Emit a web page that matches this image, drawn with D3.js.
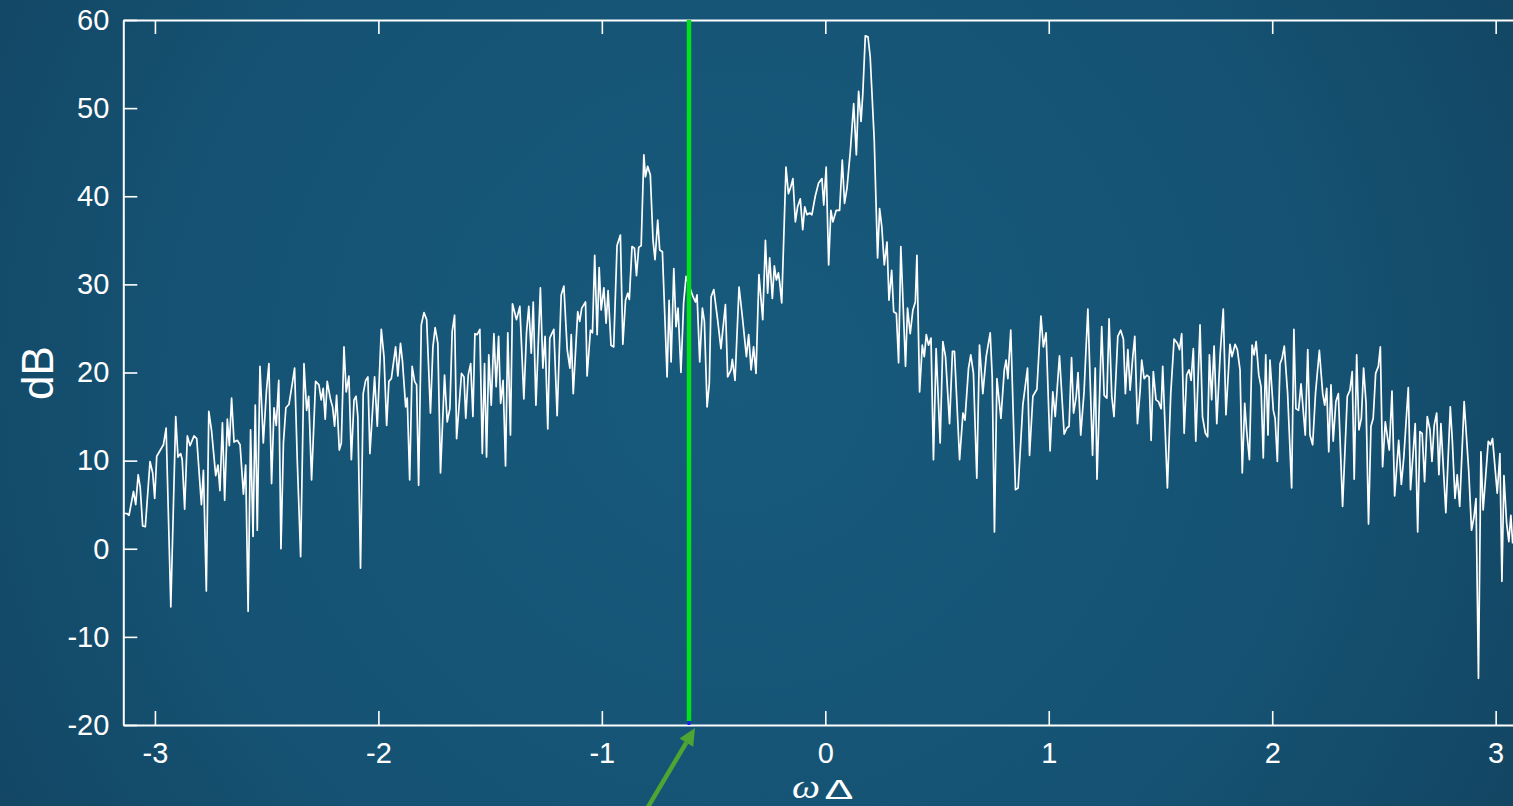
<!DOCTYPE html>
<html>
<head>
<meta charset="utf-8">
<script src="https://cdn.jsdelivr.net/npm/d3@7"></script>
<style>
  html, body { margin: 0; padding: 0; overflow: hidden; background: #134866; }
  svg { display: block; }
</style>
</head>
<body>
<svg id="chart" width="1513" height="806"></svg>
<script>
// Spectrum samples: normalized frequency (rad/sample) and power in dB
const omega = [
  -3.138,-3.126,-3.116,-3.096,-3.086,-3.075,-3.066,-3.055,-3.043,-3.022,-3.010,-3.001,-2.992,-2.962,-2.950,-2.929,
  -2.907,-2.897,-2.885,-2.878,-2.867,-2.855,-2.843,-2.825,-2.813,-2.792,-2.783,-2.770,-2.759,-2.747,-2.728,-2.718,
  -2.709,-2.698,-2.688,-2.676,-2.667,-2.657,-2.646,-2.631,-2.619,-2.604,-2.594,-2.583,-2.572,-2.561,-2.551,-2.542,
  -2.530,-2.515,-2.501,-2.490,-2.478,-2.467,-2.457,-2.446,-2.436,-2.425,-2.414,-2.400,-2.385,-2.375,-2.363,
  -2.348,-2.333,-2.321,-2.312,-2.299,-2.281,-2.266,-2.256,-2.247,-2.238,-2.229,-2.214,-2.205,-2.196,-2.187,-2.175,
  -2.166,-2.154,-2.144,-2.132,-2.121,-2.109,-2.100,-2.092,-2.080,-2.068,-2.057,-2.047,-2.038,-2.017,-2.005,-1.987,
  -1.975,-1.963,-1.953,-1.942,-1.923,-1.913,-1.901,-1.892,-1.878,-1.871,-1.860,-1.849,-1.838,-1.829,-1.820,-1.808,
  -1.796,-1.784,-1.767,-1.756,-1.746,-1.734,-1.722,-1.704,-1.692,-1.680,-1.670,-1.659,-1.650,-1.628,-1.617,-1.609,
  -1.598,-1.587,-1.577,-1.568,-1.558,-1.546,
  -1.535,-1.525,-1.516,-1.506,-1.495,-1.483,-1.473,-1.462,-1.453,-1.442,-1.431,-1.421,-1.409,-1.400,-1.382,-1.367,
  -1.349,-1.337,-1.327,-1.316,-1.307,-1.295,-1.275,-1.264,-1.254,-1.242,-1.233,-1.215,-1.200,-1.182,-1.170,-1.155,
  -1.143,-1.137,-1.128,-1.108,-1.099,-1.090,-1.073,-1.066,-1.051,-1.042,-1.032,-1.021,-1.012,-1.003,-0.991,-0.981,
  -0.972,-0.959,-0.947,-0.932,-0.917,-0.906,-0.894,-0.884,-0.877,-0.865,-0.854,-0.845,-0.835,-0.824,-0.812,
  -0.805,-0.795,-0.783,-0.771,-0.762,-0.750,-0.741,-0.729,-0.708,-0.699,-0.690,-0.678,-0.668,-0.659,-0.646,-0.634,
  -0.623,-0.592,-0.581,-0.574,-0.562,-0.550,-0.541,-0.529,-0.519,-0.511,-0.499,-0.482,-0.467,-0.447,-0.437,-0.422,
  -0.416,-0.404,-0.386,-0.371,-0.353,-0.343,-0.332,-0.321,-0.310,-0.297,-0.280,-0.268,-0.258,-0.249,-0.237,-0.228,
  -0.219,-0.210,-0.204,-0.195,-0.176,-0.165,-0.154,-0.145,-0.134,-0.124,-0.112,-0.101,-0.092,-0.082,-0.070,-0.060,
  -0.045,-0.030,
  -0.015,-0.007,0.004,0.015,0.025,0.034,0.049,0.064,0.076,0.086,0.097,0.112,0.127,0.139,0.149,0.160,
  0.168,0.179,0.191,0.201,0.219,0.234,0.243,0.253,0.264,0.276,0.285,0.297,0.306,0.318,0.328,0.338,
  0.359,0.368,0.380,0.392,0.403,0.410,0.422,0.434,0.443,0.452,0.462,0.473,0.484,0.496,0.514,0.526,
  0.538,0.556,0.569,0.578,0.601,0.616,0.625,0.641,0.651,0.663,0.678,0.690,
  0.705,0.720,0.738,0.747,0.757,0.768,0.786,0.801,0.809,0.817,0.830,0.851,0.863,0.884,0.905,0.914,
  0.929,0.947,0.965,0.976,0.988,1.006,1.018,1.029,1.048,1.069,1.081,1.091,1.102,1.111,1.123,1.131,
  1.143,1.158,1.175,1.196,1.208,1.216,1.237,1.248,1.260,1.270,1.282,1.292,1.309,1.322,1.334,1.343,
  1.354,1.364,1.376,1.385,1.397,
  1.409,1.416,1.427,1.439,1.449,1.458,1.468,1.480,1.491,1.503,1.510,1.531,1.546,1.561,1.576,1.585,
  1.595,1.606,1.617,1.628,1.637,1.647,1.658,1.677,1.688,1.701,1.711,1.719,1.729,1.740,1.752,1.767,
  1.781,1.793,1.811,1.820,1.834,1.844,1.856,1.866,1.877,1.886,1.898,1.910,1.919,1.928,1.940,1.950,
  1.960,1.971,1.981,1.990,2.005,2.013,2.023,2.035,2.044,2.054,2.069,2.087,2.097,2.106,2.118,2.129,
  2.148,2.159,2.169,2.181,2.194,2.211,
  2.226,2.235,2.244,2.253,2.263,2.273,2.285,2.296,2.315,2.336,2.348,2.358,2.367,2.378,2.388,2.399,
  2.409,2.420,2.431,2.442,2.452,2.463,2.475,2.484,2.494,2.506,2.524,2.536,2.548,2.566,2.578,2.589,
  2.609,2.619,2.640,2.651,2.661,2.671,2.682,2.694,2.706,2.715,2.725,2.736,2.746,2.755,2.777,2.797,
  2.806,2.818,2.828,2.839,2.859,2.880,2.892,2.903,2.912,2.923,2.934,2.944,2.967,2.977,2.986,3.007,
  3.019,3.028,3.037,3.049,3.059,3.068,3.076
];

const powerDb = [
  4.0,4.0,3.8,6.5,5.0,8.4,7.0,2.6,2.5,9.9,8.6,5.7,10.5,11.8,13.7,-6.6,
  15.0,10.4,10.8,10.1,4.5,12.8,11.7,12.8,12.5,5.0,8.9,-4.8,15.6,13.5,8.3,9.5,
  6.6,14.3,5.5,14.7,11.7,17.1,12.1,12.3,11.8,6.2,9.5,-7.1,13.5,1.4,16.3,2.1,
  20.7,12.0,17.9,21.0,7.4,16.0,14.0,19.1,0.0,12.0,16.0,16.4,18.8,20.5,10.0,
  -0.9,21.0,15.7,17.3,7.8,19.0,18.6,16.9,18.2,14.7,19.0,16.9,16.1,13.9,17.4,11.2,
  12.0,22.9,17.8,19.6,10.1,16.9,17.3,15.0,-2.2,17.6,19.1,19.5,10.8,19.5,13.9,24.9,
  21.8,14.0,19.0,19.3,22.9,19.6,23.3,21.2,16.1,17.1,7.8,20.7,19.0,18.6,7.2,25.4,
  26.8,26.0,15.4,22.9,25.1,23.3,8.6,19.7,14.4,15.9,24.6,26.5,12.5,19.9,19.5,14.8,
  19.7,21.0,15.0,24.4,24.3,24.9,
  10.8,21.0,10.4,22.0,16.3,24.4,18.4,24.1,16.5,19.1,9.4,24.5,12.9,27.8,26.0,27.5,
  17.0,24.6,27.5,22.2,28.0,16.3,29.6,20.5,24.1,13.6,23.9,24.9,15.1,28.8,29.8,22.6,
  20.5,24.3,17.6,26.9,25.8,27.3,28.0,19.6,24.8,24.5,33.3,24.3,31.9,27.1,29.6,25.6,
  29.3,23.1,22.9,34.4,35.6,23.2,28.2,29.0,28.3,34.3,34.1,31.0,34.2,34.4,44.7,
  42.2,43.4,42.4,35.0,32.8,37.3,33.9,33.7,19.5,28.2,21.2,31.8,25.2,27.3,20.0,27.9,
  30.9,28.6,28.0,28.8,21.2,27.3,25.8,16.1,18.8,28.6,29.4,26.0,22.7,27.7,19.5,20.3,
  21.5,19.1,29.7,26.3,21.8,24.3,20.3,22.9,19.9,31.1,26.0,35.0,29.0,33.0,28.4,32.1,
  30.5,31.3,30.2,27.9,43.3,40.3,41.1,42.0,37.1,38.8,39.7,36.2,38.8,37.9,38.1,37.9,
  40.0,41.5,
  42.0,39.0,43.3,32.2,38.4,37.1,38.4,38.4,44.1,39.2,40.9,45.1,50.5,44.7,51.9,48.5,
  51.7,58.2,58.1,55.8,46.4,33.0,38.6,36.5,32.2,34.8,28.2,31.6,26.9,26.7,21.1,34.3,
  20.7,27.3,24.4,27.1,28.0,33.3,17.8,23.1,21.8,24.3,23.1,23.9,10.1,22.7,12.0,23.5,
  21.8,14.2,22.4,22.4,10.1,15.4,14.6,20.5,22.0,19.9,8.0,23.1,
  17.6,21.8,24.5,19.5,1.9,19.3,14.8,20.3,21.4,19.3,24.8,6.7,6.9,16.3,20.5,10.6,
  17.3,18.1,26.4,22.9,24.5,11.1,17.8,15.0,21.9,13.0,13.7,13.9,21.7,15.4,17.3,20.0,
  12.9,17.8,27.2,10.6,20.5,7.9,25.2,17.4,17.1,26.1,17.3,15.0,24.1,24.8,23.8,17.6,
  22.6,18.0,21.8,24.1,14.2,
  18.0,21.4,19.3,19.7,19.5,12.3,20.1,16.9,16.7,15.9,20.7,6.9,17.6,23.8,23.3,22.6,
  24.4,13.1,19.7,20.3,19.1,22.7,12.2,25.4,15.0,13.1,12.7,22.0,16.9,23.0,14.2,22.0,
  27.2,15.2,23.2,21.8,23.2,22.6,20.3,8.6,16.5,13.3,10.1,23.1,22.0,23.5,19.7,18.4,
  10.3,22.0,12.9,21.4,15.7,14.8,9.9,21.0,21.6,23.0,17.6,6.9,24.9,15.9,15.7,18.7,
  12.9,22.6,12.9,11.8,17.7,22.5,
  17.6,16.3,18.2,11.0,18.6,12.2,16.7,17.6,4.8,17.3,18.0,20.1,7.9,22.0,13.5,14.8,
  20.5,16.5,2.8,13.9,14.8,19.9,20.7,22.9,9.3,14.4,11.2,17.9,6.0,12.3,7.3,10.4,
  18.3,6.7,14.2,1.9,13.3,13.1,7.6,15.0,13.5,9.9,14.0,15.4,8.4,14.2,4.1,16.1,
  12.3,5.7,8.4,4.8,16.7,8.6,2.1,3.6,5.7,-14.7,11.0,4.4,12.2,11.8,12.5,6.3,
  10.8,-3.7,8.3,2.9,0.8,3.8,0.6
];

// Axis ticks and the marked frequency
const xTicks = [-3, -2, -1, 0, 1, 2, 3];
const yTicks = [-20, -10, 0, 10, 20, 30, 40, 50, 60];
const xDomain = [-Math.PI, Math.PI];
const yDomain = [-20, 60];
const markedOmega = [-0.61];

const svg = d3.select("#chart");
const W = 1513, H = 806;

// Background with soft radial shading
const defs = svg.append("defs");
const grad = defs.append("radialGradient")
  .attr("id", "bg").attr("gradientUnits", "userSpaceOnUse")
  .attr("cx", 740).attr("cy", 380).attr("r", 950);
grad.append("stop").attr("offset", 0).attr("stop-color", "#175a7c");
grad.append("stop").attr("offset", 0.6).attr("stop-color", "#155273");
grad.append("stop").attr("offset", 1).attr("stop-color", "#12435f");
svg.append("rect").attr("width", W).attr("height", H).attr("fill", "url(#bg)");

const plotLeft = 123.3, plotRight = 1527.3, plotTop = 20, plotBottom = 725;
const x = d3.scaleLinear().domain(xDomain).range([plotLeft, plotRight]);
const y = d3.scaleLinear().domain(yDomain).range([plotBottom, plotTop]);

defs.append("clipPath").attr("id", "plotClip")
  .append("rect").attr("x", plotLeft).attr("y", plotTop)
  .attr("width", plotRight - plotLeft).attr("height", plotBottom - plotTop);

const font = "'Liberation Sans', Arial, Helvetica, sans-serif";

// Spectrum trace
const series = omega.map((w, i) => [w, powerDb[i]]);
svg.append("path")
  .datum(series)
  .attr("clip-path", "url(#plotClip)")
  .attr("fill", "none")
  .attr("stroke", "#ffffff")
  .attr("stroke-width", 1.7)
  .attr("stroke-linejoin", "round")
  .attr("d", d3.line().x(d => x(d[0])).y(d => y(d[1])));

// Axes (ticks point inward, box on top)
function styleAxis(g) {
  g.selectAll(".domain").attr("stroke", "#ffffff").attr("stroke-width", 2);
  g.selectAll(".tick line").attr("stroke", "#ffffff").attr("stroke-width", 1.6);
  g.selectAll(".tick text").attr("fill", "#ffffff")
    .attr("font-family", font).attr("font-size", 29);
}

svg.append("g")
  .attr("transform", `translate(0,${plotBottom})`)
  .call(d3.axisBottom(x).tickValues(xTicks).tickFormat(d => String(d))
    .tickSizeInner(-14).tickSizeOuter(0).tickPadding(17))
  .call(styleAxis);

svg.append("g")
  .attr("transform", `translate(0,${plotTop})`)
  .call(d3.axisTop(x).tickValues(xTicks).tickFormat(() => "")
    .tickSizeInner(-14).tickSizeOuter(0))
  .call(styleAxis);

svg.append("g")
  .attr("transform", `translate(${plotLeft},0)`)
  .call(d3.axisLeft(y).tickValues(yTicks).tickFormat(d => String(d))
    .tickSizeInner(-14).tickSizeOuter(0).tickPadding(14))
  .call(styleAxis);

// Marked frequency
svg.selectAll(".marker").data(markedOmega).enter().append("line")
  .attr("class", "marker")
  .attr("x1", d => x(d)).attr("x2", d => x(d))
  .attr("y1", y(yDomain[1])).attr("y2", y(yDomain[0]) - 4)
  .attr("stroke", "#00e21a").attr("stroke-width", 4.5);
svg.selectAll(".markerFoot").data(markedOmega).enter().append("line")
  .attr("class", "markerFoot")
  .attr("x1", d => x(d)).attr("x2", d => x(d))
  .attr("y1", y(yDomain[0]) - 4).attr("y2", y(yDomain[0]))
  .attr("stroke", "#1a1aff").attr("stroke-width", 3);

// Arrow pointing at the marked frequency
const tip = [x(markedOmega[0]) + 6, plotBottom + 3];
const tail = [645, 812];
const ang = Math.atan2(tip[1] - tail[1], tip[0] - tail[0]);
const headLen = 17, headHalf = 8;
const base = [tip[0] - headLen * Math.cos(ang), tip[1] - headLen * Math.sin(ang)];
const nx = -Math.sin(ang), ny = Math.cos(ang);
svg.append("line")
  .attr("x1", tail[0]).attr("y1", tail[1])
  .attr("x2", base[0]).attr("y2", base[1])
  .attr("stroke", "#4fa534").attr("stroke-width", 4.5);
svg.append("path")
  .attr("d", `M${tip[0]},${tip[1]}L${base[0] + nx * headHalf},${base[1] + ny * headHalf}L${base[0] - nx * headHalf},${base[1] - ny * headHalf}Z`)
  .attr("fill", "#4fa534");

// Axis titles
svg.append("text")
  .attr("transform", `translate(53,373) rotate(-90)`)
  .attr("text-anchor", "middle")
  .attr("fill", "#ffffff")
  .attr("font-family", font)
  .attr("font-size", 44)
  .text("dB");

// x title: italic omega followed by a wide Delta
svg.append("text")
  .attr("transform", "translate(806,798) scale(1.2,1)")
  .attr("text-anchor", "middle")
  .attr("fill", "#ffffff")
  .attr("font-family", "'Liberation Serif', 'Times New Roman', serif")
  .attr("font-style", "italic")
  .attr("font-size", 33)
  .text("ω");
svg.append("text")
  .attr("transform", "translate(839,799) scale(1.6,1)")
  .attr("text-anchor", "middle")
  .attr("fill", "#ffffff")
  .attr("font-family", font)
  .attr("font-size", 27)
  .text("Δ");
</script>
</body>
</html>
